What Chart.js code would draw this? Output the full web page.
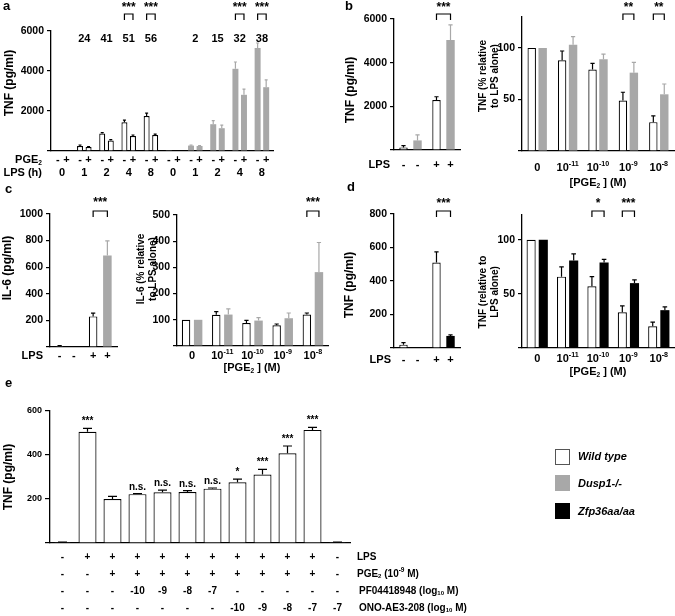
<!DOCTYPE html>
<html>
<head>
<meta charset="utf-8">
<title>PGE2 and TNF / IL-6</title>
<script src="https://cdn.jsdelivr.net/npm/chart.js@4.4.1/dist/chart.umd.min.js"></script>
<style>
  html, body { margin: 0; padding: 0; background: #fff; }
  #fig { position: relative; width: 675px; height: 616px; overflow: hidden;
         font-family: "Liberation Sans", Arial, sans-serif; font-weight: bold; color: #000; }
  #fig canvas { position: absolute; left: 0; top: 0; }
  .panel { position: absolute; font-size: 13px; line-height: 13px; }
  .key { position: absolute; left: 555px; width: 15px; height: 16px; box-sizing: border-box; }
  .keytxt { position: absolute; left: 578px; font-size: 11px; font-style: italic; line-height: 14px; }
</style>
</head>
<body>
<div id="fig">
  <canvas id="cA" width="675" height="616"></canvas>
  <canvas id="cB1" width="675" height="616"></canvas>
  <canvas id="cB2" width="675" height="616"></canvas>
  <canvas id="cC1" width="675" height="616"></canvas>
  <canvas id="cC2" width="675" height="616"></canvas>
  <canvas id="cD1" width="675" height="616"></canvas>
  <canvas id="cD2" width="675" height="616"></canvas>
  <canvas id="cE" width="675" height="616"></canvas>

  <div class="panel" style="left:3px;top:-1px">a</div>
  <div class="panel" style="left:345px;top:-1px">b</div>
  <div class="panel" style="left:5px;top:182px">c</div>
  <div class="panel" style="left:347px;top:180px">d</div>
  <div class="panel" style="left:5px;top:376px">e</div>

  <div class="key" style="top:449px;background:#fff;border:1px solid #555"></div>
  <div class="keytxt" style="top:449px">Wild type</div>
  <div class="key" style="top:475px;background:#a8a8a8"></div>
  <div class="keytxt" style="top:476px">Dusp1-/-</div>
  <div class="key" style="top:503px;background:#000"></div>
  <div class="keytxt" style="top:504px">Zfp36aa/aa</div>
</div>

<script>
// ---- data ----

// a: TNF time course, wild type (first five groups) and Dusp1-/- (last five)
var aGroups = ["0", "1", "2", "4", "8", "0", "1", "2", "4", "8"];
var aStrain = ["wt", "wt", "wt", "wt", "wt", "dusp", "dusp", "dusp", "dusp", "dusp"];
var aNoPGE = [0, 250, 870, 1440, 1750, 40, 270, 1340, 4110, 5150];
var aNoPGEErr = [0, 50, 50, 100, 140, 0, 20, 180, 340, 250];
var aPGE = [0, 200, 520, 750, 800, 0, 250, 1140, 2810, 3190];
var aPGEErr = [0, 20, 50, 50, 40, 0, 20, 150, 280, 370];
var aInhibition = ["", "24", "41", "51", "56", "", "2", "15", "32", "38"];
var aStars = ["", "", "", "***", "***", "", "", "", "***", "***"];
var pgeSigns = ["-", "+"];

// b, c, d: LPS - / + and PGE2 doses
var lpsSigns = ["-", "+"];
var doses = ["0", "10^{-11}", "10^{-10}", "10^{-9}", "10^{-8}"];

var bTnfWT = [120, 2290];
var bTnfWTErr = [80, 150];
var bTnfDusp = [440, 5040];
var bTnfDuspErr = [250, 690];
var bTnfStars = ["", "***"];
var bRelWT = [100, 88, 79, 49, 28];
var bRelWTErr = [0, 9, 6, 8, 6];
var bRelDusp = [100, 103, 89, 76, 55];
var bRelDuspErr = [0, 8, 5, 10, 10];
var bRelStars = ["", "", "", "**", "**"];

var cIl6WT = [8, 230];
var cIl6WTErr = [3, 25];
var cIl6Dusp = [0, 688];
var cIl6DuspErr = [0, 110];
var cIl6Stars = ["", "***"];
var cRelWT = [100, 119, 88, 79, 120];
var cRelWTErr = [0, 12, 10, 5, 6];
var cRelDusp = [100, 120, 97, 106, 282];
var cRelDuspErr = [0, 22, 11, 20, 113];
var cRelStars = ["", "", "", "", "***"];

var dTnfWT = [20, 510];
var dTnfWTErr = [12, 64];
var dTnfZfp = [0, 72];
var dTnfZfpErr = [0, 6];
var dTnfStars = ["", "***"];
var dRelWT = [100, 66, 57, 33, 20];
var dRelWTErr = [0, 9, 9, 6, 4];
var dRelZfp = [100, 81, 79, 60, 35];
var dRelZfpErr = [0, 6, 3, 3, 3];
var dRelStars = ["", "", "*", "***", ""];

// e: EP2 / EP4 antagonists
var eTnf = [3, 506, 200, 222, 231, 232, 247, 276, 311, 408, 514, 3];
var eTnfErr = [1, 15, 12, 2, 9, 6, 3, 14, 24, 33, 12, 1];
var eSig = ["", "***", "", "n.s.", "n.s.", "n.s.", "n.s.", "*", "***", "***", "***", ""];
var eLPS = ["-", "+", "+", "+", "+", "+", "+", "+", "+", "+", "+", "-"];
var ePGE = ["-", "-", "+", "+", "+", "+", "+", "+", "+", "+", "+", "-"];
var ePF = ["-", "-", "-", "-10", "-9", "-8", "-7", "-", "-", "-", "-", "-"];
var eONO = ["-", "-", "-", "-", "-", "-", "-", "-10", "-9", "-8", "-7", "-7"];

// ---- styles ----
var W = 675, H = 616;
var WHITE = "#ffffff", GREY = "#a8a8a8", BLACK = "#000000";
var FONT = '"Liberation Sans", Arial, Helvetica, sans-serif';
Chart.defaults.font.family = FONT;
Chart.defaults.color = "#000";

var figs = {};   // extra drawing per canvas

// text with ^{sup} and _{sub}
function rich(ctx, str, x, y, size, align) {
    var parts = [];
    str.split(/(\^\{[^}]*\}|_\{[^}]*\})/).forEach(function(p) {
        if (!p) return;
        if (p[0] === "^") parts.push({ t: p.slice(2, -1), dy: -size * 0.38, s: size * 0.65 });
        else if (p[0] === "_") parts.push({ t: p.slice(2, -1), dy: size * 0.28, s: size * 0.6 });
        else parts.push({ t: p, dy: 0, s: size });
    });
    var w = 0;
    parts.forEach(function(p) {
        ctx.font = "bold " + p.s + "px " + FONT;
        p.w = ctx.measureText(p.t).width;
        w += p.w;
    });
    var cx = align === "center" ? x - w / 2 : (align === "right" ? x - w : x);
    ctx.textAlign = "left";
    ctx.textBaseline = "middle";
    ctx.fillStyle = "#000";
    parts.forEach(function(p) {
        ctx.font = "bold " + p.s + "px " + FONT;
        ctx.fillText(p.t, cx, y + p.dy);
        cx += p.w;
    });
}

// error bars, brackets, rows of +/- and axis titles
var figPlugin = {
    id: "fig",
    afterDatasetsDraw: function(chart) {
        var ctx = chart.ctx, ys = chart.scales.y;
        ctx.save();
        chart.data.datasets.forEach(function(ds, d) {
            if (!ds.errorBars) return;
            chart.getDatasetMeta(d).data.forEach(function(bar, i) {
                var e = ds.errorBars[i];
                if (!e) return;
                var fill = Array.isArray(ds.backgroundColor) ? ds.backgroundColor[i] : ds.backgroundColor;
                var yTop = ys.getPixelForValue(ds.data[i] + e);
                var half = bar.width * 0.25;
                ctx.strokeStyle = fill === WHITE ? "#000" : fill;
                ctx.lineWidth = 1.2;
                ctx.beginPath();
                ctx.moveTo(bar.x, bar.y);
                ctx.lineTo(bar.x, yTop);
                ctx.moveTo(bar.x - half, yTop);
                ctx.lineTo(bar.x + half, yTop);
                ctx.stroke();
            });
        });
        ctx.restore();
    },
    afterDraw: function(chart) {
        var fig = figs[chart.canvas.id];
        if (!fig) return;
        var ctx = chart.ctx, xs = chart.scales.x, ys = chart.scales.y;
        ctx.save();

        // y axis title (rotated)
        if (fig.title) {
            var t = fig.title;
            ctx.save();
            ctx.translate(t.x, t.y);
            ctx.rotate(-Math.PI / 2);
            t.lines.forEach(function(ln, k) { rich(ctx, ln, 0, k * (t.lh || 0), t.size, "center"); });
            ctx.restore();
        }

        // rows of labels under / over the bars
        (fig.rows || []).forEach(function(r) {
            if (r.per === "cat") {
                r.items.forEach(function(txt, i) {
                    if (txt) rich(ctx, txt, xs.getPixelForValue(i), r.y, r.size, "center");
                });
            } else {
                chart.data.datasets.forEach(function(ds, d) {
                    chart.getDatasetMeta(d).data.forEach(function(bar, i) {
                        var txt = r.per === "ds" ? r.items[d] : r.items[i];
                        rich(ctx, txt, bar.x, r.y, r.size, "center");
                    });
                });
            }
        });

        (fig.texts || []).forEach(function(tx) {
            rich(ctx, tx.t, tx.x, tx.y, tx.size, tx.align);
        });

        // significance brackets between the two bars of a group
        if (fig.brackets) {
            var br = fig.brackets;
            var m0 = chart.getDatasetMeta(0).data, m1 = chart.getDatasetMeta(1).data;
            br.stars.forEach(function(s, i) {
                if (!s) return;
                var x1 = m0[i].x, x2 = m1[i].x;
                ctx.strokeStyle = "#000";
                ctx.lineWidth = 1.2;
                ctx.beginPath();
                ctx.moveTo(x1, br.bottom);
                ctx.lineTo(x1, br.top);
                ctx.lineTo(x2, br.top);
                ctx.lineTo(x2, br.bottom);
                ctx.stroke();
                rich(ctx, s, (x1 + x2) / 2, br.ty, 12, "center");
            });
        }

        // notes above error bars (panel e)
        if (fig.notes) {
            var ds = chart.data.datasets[0];
            chart.getDatasetMeta(0).data.forEach(function(bar, i) {
                var txt = fig.notes.items[i];
                if (!txt) return;
                var y = ys.getPixelForValue(ds.data[i] + ds.errorBars[i]) - fig.notes.gap;
                ctx.font = "bold " + fig.notes.size + "px " + FONT;
                ctx.textAlign = "center";
                ctx.textBaseline = "alphabetic";
                ctx.fillStyle = "#000";
                ctx.fillText(txt, bar.x, y);
            });
        }
        ctx.restore();
    }
};
Chart.register(figPlugin);

function bars(data, err, fill, barPct, catPct) {
    var bw = Array.isArray(fill)
        ? fill.map(function(f) { return f === WHITE ? 1.2 : 0; })
        : (fill === WHITE ? 1.2 : 0);
    return {
        data: data,
        errorBars: err,
        backgroundColor: fill,
        borderColor: "#000",
        borderWidth: bw,
        borderSkipped: "start",
        barPercentage: barPct,
        categoryPercentage: catPct
    };
}

// plot = [left, top, right, bottom] of the plotting area on the page
function makeChart(id, plot, max, ticks, labels, datasets, fig, tickSize, tickLength) {
    var l = plot[0], t = plot[1], r = plot[2], b = plot[3];
    var yW = 30;
    figs[id] = fig;
    return new Chart(document.getElementById(id), {
        type: "bar",
        data: { labels: labels, datasets: datasets },
        options: {
            responsive: false,
            animation: false,
            layout: { padding: { left: l - yW, top: t, right: W - r, bottom: H - b } },
            plugins: { legend: { display: false }, tooltip: { enabled: false } },
            scales: {
                x: {
                    ticks: { display: false },
                    grid: { drawOnChartArea: false, drawTicks: false },
                    border: { color: "#000", width: 1.3 },
                    afterFit: function(s) { s.height = 0; }
                },
                y: {
                    min: 0,
                    max: max,
                    ticks: {
                        color: "#000",
                        padding: 3,
                        font: { size: tickSize || 10.5, weight: "bold" },
                        callback: function(v) { return v === 0 ? "" : v; }
                    },
                    grid: { drawOnChartArea: false, color: "#000", lineWidth: 1.2, tickLength: tickLength || 4 },
                    border: { color: "#000", width: 1.3 },
                    afterBuildTicks: function(s) { s.ticks = ticks.map(function(v) { return { value: v }; }); },
                    afterFit: function(s) { s.width = yW; }
                }
            }
        }
    });
}

function strainFill(s) { return s === "wt" ? WHITE : GREY; }

// ---- a ----
makeChart("cA", [51, 31, 273, 151], 6000, [0, 2000, 4000, 6000], aGroups, [
    bars(aNoPGE, aNoPGEErr, aStrain.map(strainFill), 0.7, 0.77),
    bars(aPGE, aPGEErr, aStrain.map(strainFill), 0.7, 0.77)
], {
    title: { x: 10, y: 83, lines: ["TNF (pg/ml)"], size: 12 },
    rows: [
        { y: 39, per: "cat", items: aInhibition, size: 11 },
        { y: 160, per: "ds", items: pgeSigns, size: 11 },
        { y: 173, per: "cat", items: aGroups, size: 11 }
    ],
    texts: [
        { x: 42, y: 160, t: "PGE_{2}", size: 11, align: "right" },
        { x: 42, y: 173, t: "LPS (h)", size: 11, align: "right" }
    ],
    brackets: { stars: aStars, top: 14, bottom: 20, ty: 8 }
});

// ---- b ----
makeChart("cB1", [394, 19, 460, 150], 6000, [0, 2000, 4000, 6000], lpsSigns, [
    bars(bTnfWT, bTnfWTErr, WHITE, 0.6, 0.85),
    bars(bTnfDusp, bTnfDuspErr, GREY, 0.6, 0.85)
], {
    title: { x: 351, y: 90, lines: ["TNF (pg/ml)"], size: 12 },
    rows: [{ y: 165, per: "cat-bar", items: lpsSigns, size: 11 }],
    texts: [{ x: 390, y: 165, t: "LPS", size: 11, align: "right" }],
    brackets: { stars: bTnfStars, top: 14, bottom: 20, ty: 8 }
});

makeChart("cB2", [522, 17, 674, 151], 130, [0, 50, 100], doses, [
    bars(bRelWT, bRelWTErr, WHITE, 0.77, 0.72),
    bars(bRelDusp, bRelDuspErr, GREY, 0.77, 0.72)
], {
    title: { x: 483, y: 76, lines: ["TNF (% relative", "to LPS alone)"], size: 10, lh: 12 },
    rows: [{ y: 168, per: "cat", items: doses, size: 11 }],
    texts: [{ x: 598, y: 183, t: "[PGE_{2} ] (M)", size: 11, align: "center" }],
    brackets: { stars: bRelStars, top: 14, bottom: 20, ty: 8 }
});

// ---- c ----
makeChart("cC1", [50, 214, 117, 347], 1000, [0, 200, 400, 600, 800, 1000], lpsSigns, [
    bars(cIl6WT, cIl6WTErr, WHITE, 0.6, 0.85),
    bars(cIl6Dusp, cIl6DuspErr, GREY, 0.6, 0.85)
], {
    title: { x: 8, y: 268, lines: ["IL-6 (pg/ml)"], size: 12 },
    rows: [{ y: 356, per: "cat-bar", items: lpsSigns, size: 11 }],
    texts: [{ x: 43, y: 356, t: "LPS", size: 11, align: "right" }],
    brackets: { stars: cIl6Stars, top: 211, bottom: 217, ty: 203 }
});

makeChart("cC2", [177, 215, 328, 346], 500, [0, 100, 200, 300, 400, 500], doses, [
    bars(cRelWT, cRelWTErr, WHITE, 0.7, 0.8),
    bars(cRelDusp, cRelDuspErr, GREY, 0.7, 0.8)
], {
    title: { x: 141, y: 269, lines: ["IL-6 (% relative", "to LPS alone)"], size: 10, lh: 12 },
    rows: [{ y: 356, per: "cat", items: doses, size: 11 }],
    texts: [{ x: 252, y: 368, t: "[PGE_{2} ] (M)", size: 11, align: "center" }],
    brackets: { stars: cRelStars, top: 211, bottom: 217, ty: 203 }
});

// ---- d ----
makeChart("cD1", [394, 214, 460, 348], 800, [0, 200, 400, 600, 800], lpsSigns, [
    bars(dTnfWT, dTnfWTErr, WHITE, 0.6, 0.85),
    bars(dTnfZfp, dTnfZfpErr, BLACK, 0.6, 0.85)
], {
    title: { x: 350, y: 285, lines: ["TNF (pg/ml)"], size: 12 },
    rows: [{ y: 360, per: "cat-bar", items: lpsSigns, size: 11 }],
    texts: [{ x: 391, y: 360, t: "LPS", size: 11, align: "right" }],
    brackets: { stars: dTnfStars, top: 211, bottom: 217, ty: 204 }
});

makeChart("cD2", [522, 215, 674, 348], 123, [0, 50, 100], doses, [
    bars(dRelWT, dRelWTErr, WHITE, 0.75, 0.8),
    bars(dRelZfp, dRelZfpErr, BLACK, 0.75, 0.8)
], {
    title: { x: 483, y: 292, lines: ["TNF (relative to", "LPS alone)"], size: 10, lh: 12 },
    rows: [{ y: 359, per: "cat", items: doses, size: 11 }],
    texts: [{ x: 598, y: 372, t: "[PGE_{2} ] (M)", size: 11, align: "center" }],
    brackets: { stars: dRelStars, top: 211, bottom: 217, ty: 204 }
});

// ---- e ----
makeChart("cE", [50, 411, 350, 543], 600, [0, 200, 400, 600], eTnf, [
    bars(eTnf, eTnfErr, WHITE, 0.72, 1)
], {
    title: { x: 9, y: 477, lines: ["TNF (pg/ml)"], size: 12 },
    rows: [
        { y: 557, per: "cat", items: eLPS, size: 10 },
        { y: 574, per: "cat", items: ePGE, size: 10 },
        { y: 591, per: "cat", items: ePF, size: 10 },
        { y: 608, per: "cat", items: eONO, size: 10 }
    ],
    texts: [
        { x: 357, y: 557, t: "LPS", size: 10, align: "left" },
        { x: 357, y: 574, t: "PGE_{2} (10^{-9} M)", size: 10, align: "left" },
        { x: 359, y: 591, t: "PF04418948 (log_{10} M)", size: 10, align: "left" },
        { x: 359, y: 608, t: "ONO-AE3-208 (log_{10} M)", size: 10, align: "left" }
    ],
    notes: { items: eSig, gap: 4, size: 10 }
}, 9, 5);
</script>
</body>
</html>
